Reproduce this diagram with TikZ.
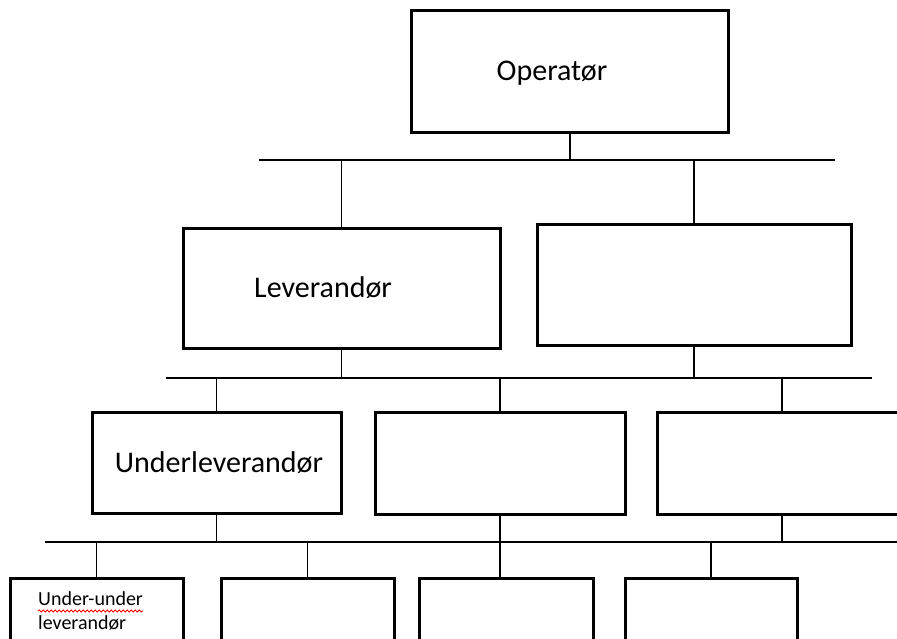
\documentclass[tikz,border=0pt]{standalone}
\usepackage{fontspec}
\setmainfont{Carlito}
\usetikzlibrary{decorations.pathmorphing}

\begin{document}
\begin{tikzpicture}[x=1pt,y=-1pt,
box/.style={draw,line width=3pt,inner sep=0pt,outer sep=0pt},
link/.style={line width=1.4pt},
lbl/.style={font=\fontsize{30}{36}\selectfont,inner sep=0pt,anchor=base},
small/.style={font=\fontsize{20}{24}\selectfont,inner sep=0pt,anchor=base west},
spell/.style={red,line width=0.8pt,decorate,decoration={snake,amplitude=1.1pt,segment length=4pt}}]
\useasboundingbox (0,0) rectangle (897,639);
\clip (0,0) rectangle (897,639);
\node[box,minimum width=317pt,minimum height=122pt] (op) at (570,72) {};
\node[box,minimum width=317pt,minimum height=119pt] (lev) at (341.5,288.5) {};
\node[box,minimum width=314pt,minimum height=120pt] (lev2) at (694,285) {};
\node[box,minimum width=249pt,minimum height=101pt] (ul) at (216.5,462.5) {};
\node[box,minimum width=250pt,minimum height=102pt] (ul2) at (500,463) {};
\node[box,minimum width=250pt,minimum height=102pt] (ul3) at (782,463) {};
\node[box,minimum width=173pt,minimum height=100pt] (uu1) at (96.5,628) {};
\node[box,minimum width=173pt,minimum height=100pt] (uu2) at (307.5,628) {};
\node[box,minimum width=174pt,minimum height=100pt] (uu3) at (506,628) {};
\node[box,minimum width=172pt,minimum height=100pt] (uu4) at (711,628) {};
\coordinate (b1l) at (259,160); \coordinate (b1r) at (835,160);
\coordinate (b2l) at (166,378); \coordinate (b2r) at (872,378);
\coordinate (b3l) at (45,542);  \coordinate (b3r) at (900,542);
\draw[link] (b1l) -- (b1r);
\draw[link] (op.south) -- (op.south |- b1l);
\draw[link] (lev.north) -- (lev.north |- b1l);
\draw[link] (lev2.north) -- (lev2.north |- b1l);
\draw[link] (b2l) -- (b2r);
\draw[link] (lev.south) -- (lev.south |- b2l);
\draw[link] (lev2.south) -- (lev2.south |- b2l);
\draw[link] (ul.north) -- (ul.north |- b2l);
\draw[link] (ul2.north) -- (ul2.north |- b2l);
\draw[link] (ul3.north) -- (ul3.north |- b2l);
\draw[link] (b3l) -- (b3r);
\draw[link] (ul.south) -- (ul.south |- b3l);
\draw[link] (ul2.south) -- (ul2.south |- uu3.north);
\draw[link] (ul3.south) -- (ul3.south |- b3l);
\draw[link] (uu1.north) -- (uu1.north |- b3l);
\draw[link] (uu2.north) -- (uu2.north |- b3l);
\draw[link] (uu4.north) -- (uu4.north |- b3l);
\node[lbl] (optxt) at (552,81) {Operatør};
\node[lbl] (levtxt) at (323,297) {Leverandør};
\node[lbl] (ultxt) at (219,472) {Underleverandør};
\node[small] (uutxt) at (38,605) {Under-under};
\node[small] (uutxt2) at (38,629) {leverandør};
\draw[spell] ([yshift=-6pt]uutxt.base west) -- ([yshift=-6pt]uutxt.base east);
\end{tikzpicture}
\end{document}
